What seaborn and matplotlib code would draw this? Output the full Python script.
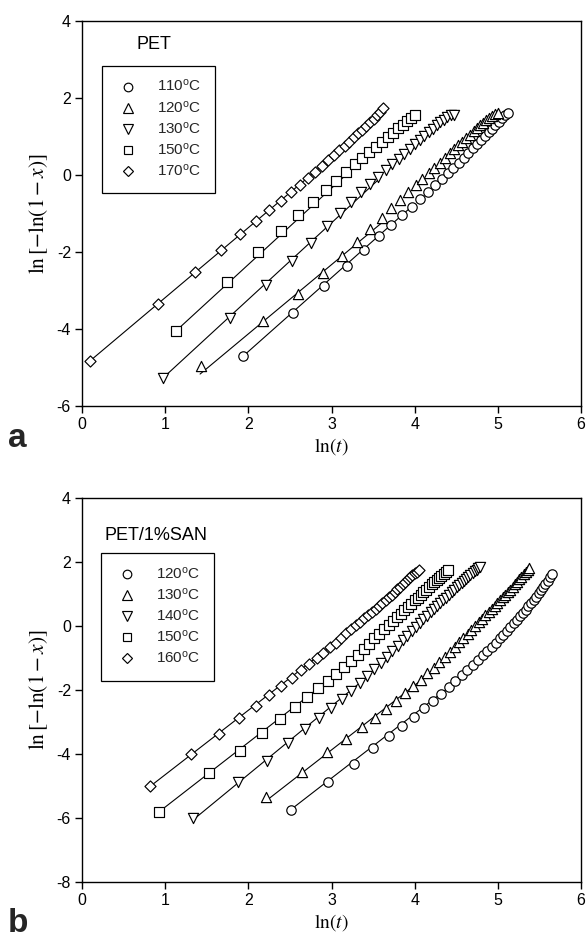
import numpy as np
import pandas as pd
import matplotlib
matplotlib.use("Agg")
import matplotlib.pyplot as plt
import seaborn as sns
from matplotlib.lines import Line2D

# ---------------- Panel a : PET ----------------
a_title = "PET"
a_labels = ["110$^{\\rm o}$C", "120$^{\\rm o}$C", "130$^{\\rm o}$C", "150$^{\\rm o}$C", "170$^{\\rm o}$C"]

a110_x = [1.940, 2.540, 2.912, 3.183, 3.396, 3.571, 3.720, 3.850, 3.965, 4.068, 4.161, 4.247, 4.325,
          4.398, 4.466, 4.530, 4.590, 4.646, 4.700, 4.750, 4.799, 4.845, 4.889, 4.931, 4.971, 5.010,
          5.048, 5.084, 5.119]
a110_y = [-4.70, -3.58, -2.88, -2.36, -1.94, -1.59, -1.30, -1.05, -0.82, -0.62, -0.44, -0.27, -0.11,
          0.04, 0.18, 0.32, 0.45, 0.57, 0.69, 0.80, 0.91, 1.01, 1.11, 1.20, 1.29, 1.38, 1.47, 1.55, 1.62]

a120_x = [1.430, 2.177, 2.600, 2.896, 3.124, 3.310, 3.466, 3.602, 3.721, 3.827, 3.924, 4.011, 4.092,
          4.167, 4.236, 4.301, 4.362, 4.420, 4.474, 4.526, 4.575, 4.621, 4.666, 4.709, 4.750, 4.789,
          4.827, 4.863, 4.899, 4.933, 4.965, 4.997]
a120_y = [-4.96, -3.79, -3.09, -2.55, -2.10, -1.73, -1.40, -1.12, -0.87, -0.64, -0.44, -0.26, -0.10,
          0.05, 0.19, 0.32, 0.44, 0.56, 0.67, 0.77, 0.87, 0.96, 1.05, 1.13, 1.21, 1.29, 1.36, 1.43,
          1.49, 1.54, 1.58, 1.62]

a130_x = [0.975, 1.777, 2.216, 2.520, 2.753, 2.942, 3.101, 3.238, 3.358, 3.465, 3.562, 3.651, 3.732,
          3.807, 3.877, 3.943, 4.004, 4.062, 4.116, 4.168, 4.217, 4.264, 4.309, 4.352, 4.393, 4.433, 4.470]
a130_y = [-5.27, -3.72, -2.86, -2.24, -1.76, -1.32, -0.99, -0.71, -0.45, -0.24, -0.05, 0.12, 0.28,
          0.42, 0.55, 0.68, 0.80, 0.91, 1.01, 1.11, 1.20, 1.29, 1.37, 1.44, 1.50, 1.55, 1.57]

a150_x = [1.131, 1.740, 2.116, 2.389, 2.603, 2.779, 2.929, 3.059, 3.174, 3.277, 3.371, 3.456, 3.535,
          3.608, 3.676, 3.740, 3.800, 3.857, 3.910, 3.961, 4.009]
a150_y = [-4.05, -2.79, -2.01, -1.46, -1.04, -0.70, -0.40, -0.15, 0.08, 0.28, 0.45, 0.60, 0.74,
          0.87, 0.99, 1.10, 1.21, 1.31, 1.40, 1.49, 1.57]

a170_x = [0.095, 0.916, 1.361, 1.668, 1.902, 2.092, 2.251, 2.389, 2.510, 2.617, 2.715, 2.803, 2.885,
          2.960, 3.030, 3.096, 3.157, 3.215, 3.270, 3.321, 3.371, 3.418, 3.463, 3.506, 3.547, 3.586, 3.624]
a170_y = [-4.84, -3.35, -2.51, -1.96, -1.53, -1.20, -0.90, -0.68, -0.45, -0.26, -0.08, 0.08, 0.24,
          0.38, 0.51, 0.64, 0.76, 0.87, 0.98, 1.08, 1.18, 1.28, 1.37, 1.46, 1.55, 1.64, 1.73]

# fitted straight lines (start / end points)
a_fit_x0 = [1.94, 1.42, 0.975, 1.13, 0.09]
a_fit_y0 = [-4.70, -5.17, -5.27, -4.05, -4.84]
a_fit_x1 = [4.00, 3.60, 3.60, 3.40, 3.00]
a_fit_y1 = [-0.75, -1.25, -0.05, 0.45, 0.45]

# ---------------- Panel b : PET/1%SAN ----------------
b_title = "PET/1%SAN"
b_labels = ["120$^{\\rm o}$C", "130$^{\\rm o}$C", "140$^{\\rm o}$C", "150$^{\\rm o}$C", "160$^{\\rm o}$C"]

b120_x = [2.510, 2.959, 3.267, 3.503, 3.693, 3.853, 3.991, 4.112, 4.220, 4.318, 4.407, 4.488, 4.564,
          4.634, 4.699, 4.761, 4.819, 4.874, 4.925, 4.975, 5.022, 5.067, 5.110, 5.151, 5.191, 5.229,
          5.265, 5.301, 5.335, 5.368, 5.400, 5.431, 5.461, 5.490, 5.519, 5.546, 5.573, 5.599, 5.625, 5.649]
b120_y = [-5.74, -4.86, -4.30, -3.82, -3.45, -3.13, -2.85, -2.57, -2.34, -2.13, -1.92, -1.71, -1.53,
          -1.36, -1.21, -1.06, -0.92, -0.78, -0.65, -0.52, -0.39, -0.27, -0.15, -0.03, 0.08, 0.19,
          0.30, 0.41, 0.51, 0.62, 0.72, 0.82, 0.92, 1.02, 1.12, 1.22, 1.32, 1.42, 1.52, 1.62]

b130_x = [2.210, 2.644, 2.945, 3.177, 3.365, 3.523, 3.659, 3.779, 3.886, 3.983, 4.071, 4.152, 4.227,
          4.297, 4.362, 4.423, 4.481, 4.536, 4.587, 4.636, 4.683, 4.728, 4.771, 4.812, 4.851, 4.889,
          4.926, 4.961, 4.995, 5.028, 5.060, 5.091, 5.121, 5.150, 5.179, 5.206, 5.233, 5.259, 5.284,
          5.309, 5.333, 5.357, 5.380]
b130_y = [-5.35, -4.57, -3.93, -3.53, -3.16, -2.88, -2.59, -2.34, -2.08, -1.87, -1.68, -1.48, -1.30,
          -1.12, -0.96, -0.81, -0.65, -0.51, -0.37, -0.24, -0.12, 0.00, 0.12, 0.23, 0.33, 0.43,
          0.53, 0.63, 0.72, 0.81, 0.90, 0.98, 1.06, 1.14, 1.22, 1.30, 1.38, 1.46, 1.54, 1.61,
          1.68, 1.75, 1.82]

b140_x = [1.340, 1.876, 2.224, 2.481, 2.685, 2.855, 2.999, 3.126, 3.238, 3.339, 3.431, 3.515, 3.593,
          3.665, 3.732, 3.795, 3.854, 3.910, 3.962, 4.013, 4.060, 4.106, 4.150, 4.192, 4.232, 4.270,
          4.307, 4.343, 4.378, 4.411, 4.444, 4.475, 4.505, 4.535, 4.564, 4.592, 4.618, 4.645, 4.671,
          4.696, 4.720, 4.744, 4.767, 4.790]
b140_y = [-6.01, -4.88, -4.22, -3.66, -3.23, -2.86, -2.55, -2.28, -2.03, -1.79, -1.56, -1.35, -1.15,
          -0.96, -0.78, -0.61, -0.45, -0.30, -0.16, -0.03, 0.09, 0.21, 0.32, 0.43, 0.53, 0.62,
          0.71, 0.80, 0.89, 0.97, 1.05, 1.13, 1.21, 1.28, 1.35, 1.42, 1.48, 1.54, 1.60,
          1.66, 1.71, 1.76, 1.80, 1.84]

b150_x = [0.920, 1.524, 1.898, 2.169, 2.382, 2.558, 2.707, 2.837, 2.952, 3.055, 3.148, 3.234, 3.313,
          3.386, 3.454, 3.517, 3.577, 3.634, 3.687, 3.738, 3.786, 3.832, 3.876, 3.919, 3.959, 3.998,
          4.035, 4.071, 4.106, 4.140, 4.173, 4.204, 4.235, 4.265, 4.293, 4.321, 4.348, 4.375, 4.401]
b150_y = [-5.82, -4.58, -3.90, -3.33, -2.91, -2.52, -2.22, -1.94, -1.71, -1.49, -1.29, -1.10, -0.92,
          -0.72, -0.55, -0.39, -0.24, -0.10, 0.03, 0.16, 0.28, 0.39, 0.50, 0.60, 0.70, 0.80,
          0.89, 0.98, 1.06, 1.14, 1.22, 1.30, 1.37, 1.44, 1.51, 1.57, 1.63, 1.69, 1.74]

b160_x = [0.820, 1.314, 1.643, 1.890, 2.088, 2.254, 2.396, 2.520, 2.631, 2.730, 2.820, 2.903, 2.980,
          3.051, 3.117, 3.180, 3.238, 3.294, 3.346, 3.396, 3.443, 3.489, 3.532, 3.573, 3.613, 3.652,
          3.689, 3.724, 3.759, 3.792, 3.824, 3.855, 3.886, 3.915, 3.944, 3.971, 3.998, 4.025, 4.050]
b160_y = [-5.01, -4.00, -3.36, -2.86, -2.50, -2.16, -1.87, -1.61, -1.39, -1.19, -1.00, -0.83, -0.67,
          -0.52, -0.37, -0.23, -0.10, 0.03, 0.14, 0.25, 0.35, 0.45, 0.54, 0.63, 0.72, 0.81,
          0.90, 0.98, 1.07, 1.15, 1.23, 1.31, 1.39, 1.46, 1.53, 1.59, 1.65, 1.70, 1.74]

b_fit_x0 = [2.51, 2.22, 1.34, 0.92, 0.82]
b_fit_y0 = [-5.74, -5.45, -6.05, -5.82, -5.01]
b_fit_x1 = [4.40, 4.10, 3.40, 3.20, 3.00]
b_fit_y1 = [-1.94, -1.65, -1.65, -1.22, -0.62]

x_ticks = [0, 1, 2, 3, 4, 5, 6]
a_yticks = [-6, -4, -2, 0, 2, 4]
b_yticks = [-8, -6, -4, -2, 0, 2, 4]

markers = ["o", "^", "v", "s", "D"]
msizes = [46, 54, 54, 42, 32]
leg_ms = [6.2, 6.8, 6.8, 5.8, 5.2]

# ---------------- style ----------------
sns.set_theme(style="ticks")
plt.rcParams["font.family"] = ["Liberation Sans", "DejaVu Sans"]
plt.rcParams["axes.unicode_minus"] = False
plt.rcParams["mathtext.fontset"] = "custom"
plt.rcParams["mathtext.rm"] = "Liberation Sans"
plt.rcParams["mathtext.it"] = "Liberation Serif:italic"

W, H = 587, 943
fig = plt.figure(figsize=(W / 100, H / 100), dpi=100)
fig.patch.set_facecolor("white")

def px_axes(left, top, right, bottom):
    return fig.add_axes([left / W, 1 - bottom / H, (right - left) / W, (bottom - top) / H])

ax_a = px_axes(82, 21, 581, 406)
ax_b = px_axes(82, 498, 581, 882)

def draw(ax, series, fits, labels, title, title_xy, leg_anchor, ylim, yticks):
    for (xs, ys), m, s in zip(series, markers, msizes):
        sns.scatterplot(x=xs, y=ys, marker=m, s=s, facecolor="white", edgecolor="black",
                        linewidth=0.85, ax=ax, zorder=3)
    for x0, y0, x1, y1 in zip(*fits):
        sns.lineplot(x=[x0, x1], y=[y0, y1], color="black", linewidth=0.8, ax=ax, zorder=2)
    ax.set_xlim(0, 6)
    ax.set_ylim(*ylim)
    ax.set_xticks(x_ticks)
    ax.set_yticks(yticks)
    ax.set_xticklabels([str(v) for v in x_ticks])
    ax.set_yticklabels([str(v) for v in yticks])
    ax.tick_params(axis="both", direction="out", length=5, width=1.0, labelsize=11.5,
                   colors="black", pad=3, top=False, right=False)
    for sp in ax.spines.values():
        sp.set_visible(True)
        sp.set_color("black")
        sp.set_linewidth(1.0)
    ax.set_facecolor("white")
    ax.grid(False)
    xl = ax.set_xlabel(r"$\ln(t)$", fontsize=14, labelpad=3, color="black")
    xl.set_math_fontfamily("stix")
    yl = ax.set_ylabel(r"$\ln\left[-\ln(1-x)\right]$", fontsize=15.5, labelpad=5, color="black")
    yl.set_math_fontfamily("stix")
    ax.text(title_xy[0], title_xy[1], title, transform=ax.transAxes, fontsize=13,
            ha="left", va="center", color="black")
    handles = [Line2D([], [], marker=m, ls="none", mfc="white", mec="black", ms=ms, mew=0.85)
               for m, ms in zip(markers, leg_ms)]
    leg = ax.legend(handles, labels, loc="upper left", bbox_to_anchor=leg_anchor,
                    borderaxespad=0, frameon=True, fancybox=False, edgecolor="black",
                    fontsize=11, handlelength=1.6, handletextpad=1.1, labelspacing=0.38,
                    borderpad=0.9, framealpha=1)
    leg.get_frame().set_linewidth(0.9)

draw(ax_a, [(a110_x, a110_y), (a120_x, a120_y), (a130_x, a130_y), (a150_x, a150_y), (a170_x, a170_y)],
     (a_fit_x0, a_fit_y0, a_fit_x1, a_fit_y1), a_labels, a_title, (0.11, 0.938),
     (0.040, 0.883), (-6, 4), a_yticks)
draw(ax_b, [(b120_x, b120_y), (b130_x, b130_y), (b140_x, b140_y), (b150_x, b150_y), (b160_x, b160_y)],
     (b_fit_x0, b_fit_y0, b_fit_x1, b_fit_y1), b_labels, b_title, (0.046, 0.903),
     (0.038, 0.856), (-8, 4), b_yticks)

fig.text(8 / W, 1 - 447 / H, "a", fontsize=24, fontweight="bold", ha="left", va="baseline")
fig.text(8 / W, 1 - 932 / H, "b", fontsize=24, fontweight="bold", ha="left", va="baseline")

fig.savefig("out.png", dpi=100, facecolor="white")
